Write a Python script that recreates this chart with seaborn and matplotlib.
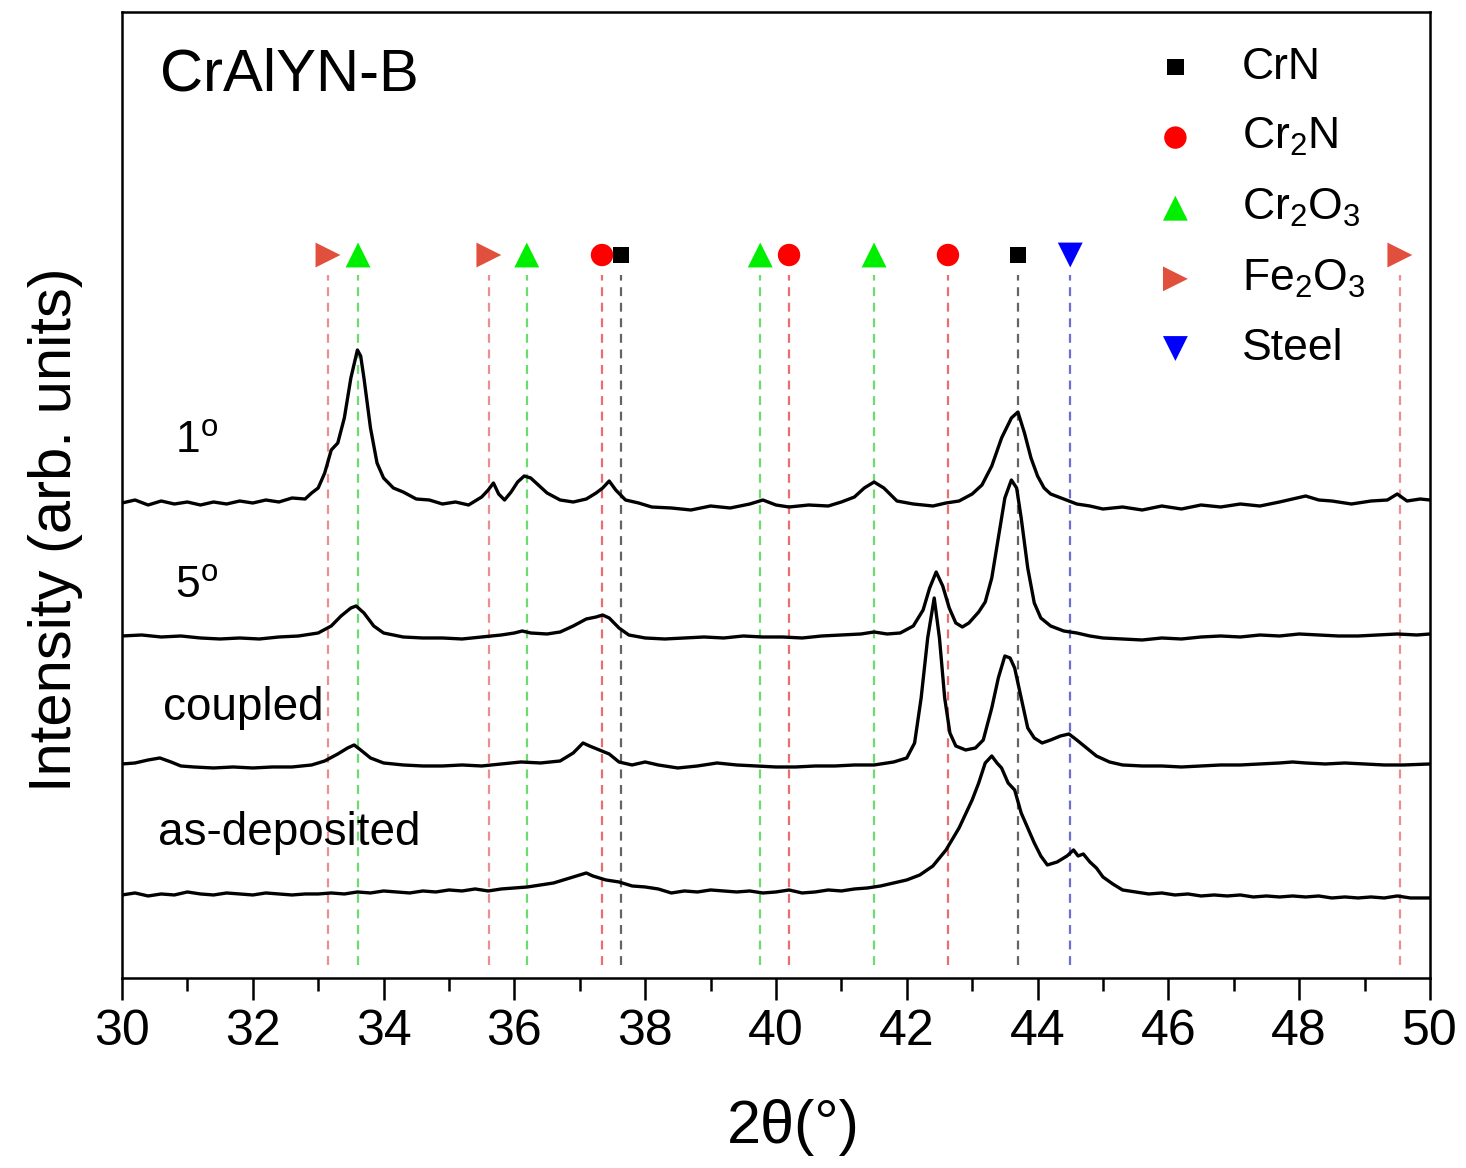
import numpy as np
import pandas as pd
import seaborn as sns
import matplotlib.pyplot as plt
from matplotlib.ticker import MultipleLocator

# --- XRD patterns (2theta in degrees, intensity in arb. units, already offset) ---
x_1deg = [30.0, 30.2, 30.4, 30.6, 30.8, 31.0, 31.2, 31.4, 31.6, 31.8, 32.0, 32.2, 32.4, 32.6, 32.8, 32.9,
          33.0, 33.1, 33.2, 33.3, 33.4, 33.5, 33.6, 33.65, 33.7, 33.8, 33.9, 34.0, 34.15, 34.3, 34.5, 34.7,
          34.9, 35.1, 35.3, 35.5, 35.6, 35.68, 35.76, 35.85, 35.95, 36.05, 36.15, 36.25, 36.35, 36.5, 36.7,
          36.9, 37.1, 37.25, 37.35, 37.45, 37.55, 37.7, 37.9, 38.1, 38.4, 38.7, 39.0, 39.3, 39.6, 39.8, 40.0,
          40.2, 40.5, 40.8, 41.0, 41.2, 41.35, 41.5, 41.65, 41.85, 42.1, 42.4, 42.6, 42.8, 43.0, 43.15, 43.3,
          43.45, 43.6, 43.7, 43.8, 43.9, 44.0, 44.1, 44.2, 44.4, 44.6, 44.8, 45.0, 45.3, 45.6, 45.9, 46.2,
          46.5, 46.8, 47.1, 47.4, 47.7, 47.9, 48.1, 48.3, 48.5, 48.8, 49.1, 49.35, 49.5, 49.65, 49.85, 50.0]
y_1deg = [475, 478, 473, 477, 474, 476, 473, 476, 474, 477, 475, 478, 476, 480, 479, 485,
          490, 505, 528, 535, 560, 600, 628, 622, 600, 550, 515, 500, 490, 486, 479, 478,
          474, 476, 473, 481, 488, 495, 484, 478, 486, 496, 502, 500, 494, 485, 478,
          476, 479, 485, 490, 497, 488, 478, 475, 471, 470, 468, 472, 470, 474, 478, 473,
          471, 473, 472, 476, 481, 490, 496, 490, 477, 474, 472, 475, 477, 484, 493, 512,
          540, 560, 566, 545, 520, 502, 490, 484, 479, 474, 472, 469, 471, 468, 472, 469,
          473, 471, 474, 472, 476, 479, 482, 478, 477, 474, 477, 478, 484, 477, 479, 478]

x_5deg = [30.0, 30.3, 30.6, 30.9, 31.2, 31.5, 31.8, 32.1, 32.4, 32.7, 33.0, 33.2, 33.35, 33.5, 33.58, 33.7,
          33.85, 34.0, 34.3, 34.6, 34.9, 35.2, 35.5, 35.8, 36.0, 36.12, 36.25, 36.5, 36.7, 36.9, 37.1, 37.25,
          37.35, 37.45, 37.6, 37.75, 38.0, 38.3, 38.6, 38.9, 39.2, 39.5, 39.8, 40.1, 40.4, 40.7, 41.0, 41.3,
          41.5, 41.7, 41.9, 42.1, 42.25, 42.35, 42.45, 42.55, 42.65, 42.75, 42.85, 42.95, 43.1, 43.2, 43.3,
          43.4, 43.5, 43.6, 43.68, 43.75, 43.85, 43.95, 44.05, 44.2, 44.4, 44.6, 44.8, 45.0, 45.3, 45.6, 45.9,
          46.2, 46.5, 46.8, 47.1, 47.4, 47.7, 48.0, 48.3, 48.6, 48.9, 49.2, 49.5, 49.8, 50.0]
y_5deg = [342, 343, 341, 342, 340, 339, 340, 339, 341, 342, 345, 352, 362, 370, 372, 365,
          352, 345, 341, 340, 340, 339, 341, 343, 345, 347, 345, 344, 346, 352, 359, 361,
          363, 360, 350, 343, 340, 339, 340, 341, 340, 342, 341, 341, 340, 342, 343, 344,
          346, 344, 345, 352, 368, 390, 406, 392, 370, 355, 351, 355, 366, 376, 400,
          440, 480, 498, 490, 460, 410, 375, 360, 352, 347, 345, 342, 340, 339, 338, 340,
          339, 341, 342, 341, 343, 342, 344, 343, 342, 342, 343, 344, 343, 344]

x_coupled = [30.0, 30.2, 30.4, 30.58, 30.75, 30.9, 31.1, 31.4, 31.7, 32.0, 32.3, 32.6, 32.9, 33.1, 33.3,
             33.45, 33.55, 33.65, 33.8, 34.0, 34.3, 34.6, 34.9, 35.2, 35.5, 35.8, 36.1, 36.4, 36.7, 36.9,
             37.05, 37.15, 37.3, 37.45, 37.6, 37.8, 38.0, 38.2, 38.5, 38.8, 39.1, 39.4, 39.7, 40.0, 40.3,
             40.6, 40.9, 41.2, 41.5, 41.8, 42.0, 42.12, 42.22, 42.32, 42.42, 42.5, 42.58, 42.66, 42.75, 42.9,
             43.05, 43.17, 43.3, 43.4, 43.5, 43.58, 43.65, 43.75, 43.85, 43.95, 44.07, 44.2, 44.35, 44.48,
             44.6, 44.75, 44.9, 45.1, 45.3, 45.6, 45.9, 46.2, 46.5, 46.8, 47.1, 47.4, 47.7, 47.9, 48.1, 48.4,
             48.7, 49.0, 49.3, 49.6, 50.0]
y_coupled = [214, 215, 218, 220, 216, 212, 211, 210, 211, 210, 211, 211, 213, 217, 224,
             230, 233, 228, 220, 215, 213, 212, 212, 213, 212, 214, 216, 215, 217, 225,
             235, 232, 228, 224, 216, 213, 216, 213, 210, 212, 215, 213, 212, 211, 211,
             212, 212, 213, 213, 216, 220, 235, 280, 340, 380, 340, 280, 245, 232, 228,
             230, 238, 270, 300, 322, 320, 310, 280, 250, 240, 235, 238, 242, 244,
             238, 230, 222, 216, 213, 212, 212, 211, 212, 213, 213, 214, 215, 216, 215, 214,
             215, 214, 213, 213, 214]

x_asdep = [30.0, 30.2, 30.4, 30.6, 30.8, 31.0, 31.2, 31.4, 31.6, 31.8, 32.0, 32.2, 32.4, 32.6, 32.8, 33.0,
           33.2, 33.4, 33.6, 33.8, 34.0, 34.2, 34.4, 34.6, 34.8, 35.0, 35.2, 35.4, 35.6, 35.8, 36.0, 36.2,
           36.4, 36.6, 36.8, 37.0, 37.1, 37.2, 37.4, 37.6, 37.8, 38.0, 38.2, 38.4, 38.6, 38.8, 39.0, 39.2,
           39.4, 39.6, 39.8, 40.0, 40.2, 40.4, 40.6, 40.8, 41.0, 41.2, 41.4, 41.6, 41.8, 42.0, 42.2, 42.4,
           42.6, 42.8, 43.0, 43.1, 43.2, 43.3, 43.38, 43.45, 43.55, 43.65, 43.75, 43.85, 43.95, 44.05, 44.15,
           44.3, 44.45, 44.55, 44.62, 44.7, 44.8, 44.9, 45.0, 45.15, 45.3, 45.5, 45.7, 45.9, 46.1, 46.3, 46.5,
           46.7, 46.9, 47.1, 47.3, 47.5, 47.7, 47.9, 48.1, 48.3, 48.5, 48.7, 48.9, 49.1, 49.3, 49.5, 49.7, 50.0]
y_asdep = [83, 85, 82, 84, 83, 86, 84, 83, 85, 84, 83, 85, 84, 83, 84, 84,
           85, 84, 86, 85, 87, 86, 85, 87, 86, 88, 87, 89, 87, 89, 90, 91,
           93, 95, 99, 103, 105, 102, 98, 96, 92, 91, 89, 85, 87, 86, 88, 87,
           86, 87, 85, 86, 88, 85, 86, 88, 87, 89, 90, 92, 95, 98, 103, 112,
           128, 150, 178, 195, 215, 222, 215, 210, 195, 188, 165, 150, 135, 122, 113,
           116, 122, 128, 122, 124, 116, 110, 101, 94, 88, 86, 84, 85, 83, 84, 82,
           83, 82, 83, 81, 82, 81, 82, 81, 82, 80, 81, 80, 81, 80, 82, 80, 80]

# --- reference peak positions ---
phases = ["CrN", "Cr$_2$N", "Cr$_2$O$_3$", "Fe$_2$O$_3$", "Steel"]
ref_CrN = [37.63, 43.70]
ref_Cr2N = [37.34, 40.20, 42.63]
ref_Cr2O3 = [33.61, 36.19, 39.76, 41.50]
ref_Fe2O3 = [33.15, 35.61, 49.54]
ref_Steel = [44.50]
ref_positions = [ref_CrN, ref_Cr2N, ref_Cr2O3, ref_Fe2O3, ref_Steel]
marker_level = 723

sns.set_style("ticks")
plt.rcParams['font.family'] = ['Liberation Sans', 'DejaVu Sans']
plt.rcParams['mathtext.fontset'] = 'custom'
plt.rcParams['mathtext.rm'] = 'Liberation Sans'
plt.rcParams['mathtext.it'] = 'Liberation Sans:italic'
plt.rcParams['text.color'] = 'black'
plt.rcParams['axes.labelcolor'] = 'black'
plt.rcParams['axes.edgecolor'] = 'black'
plt.rcParams['xtick.color'] = 'black'
plt.rcParams['ytick.color'] = 'black'

fig = plt.figure(figsize=(14.66, 11.68), dpi=100)
ax = fig.add_axes([0.0832, 0.1627, 0.8922, 0.827])

colors = ["black", "#ff0000", "#00ee00", "#e0503c", "#0000ff"]
line_colors = ["#222222", "#e03030", "#30cc30", "#e06060", "#3030c0"]
markers = ["s", "o", "^", ">", "v"]
sizes = [140, 260, 320, 320, 320]

# dashed reference lines
for pos, c in zip(ref_positions, line_colors):
    ax.vlines(pos, 13, 703, colors=c, linestyles=(0, (4, 3)), lw=1.6, alpha=0.7)

# patterns
for xs, ys in [(x_1deg, y_1deg), (x_5deg, y_5deg), (x_coupled, y_coupled), (x_asdep, y_asdep)]:
    sns.lineplot(x=xs, y=ys, color="black", lw=2.4, ax=ax)

# phase markers
for name, pos, c, m, s in zip(phases, ref_positions, colors, markers, sizes):
    sns.scatterplot(x=pos, y=[marker_level] * len(pos), marker=m, color=c, s=s,
                    edgecolor="none", label=name, ax=ax, zorder=5)

ax.legend(loc="upper left", bbox_to_anchor=(0.785, 0.964), frameon=False, fontsize=32,
          handletextpad=0.9, labelspacing=0.64, borderpad=0, borderaxespad=0, handlelength=1.2)

# text annotations
ax.text(30.58, 888, "CrAlYN-B", fontsize=43, va="baseline")
ax.text(30.81, 525, "1$^{\\rm o}$", fontsize=32, va="baseline")
ax.text(30.81, 380, "5$^{\\rm o}$", fontsize=32, va="baseline")
ax.text(30.63, 258, "coupled", fontsize=33, va="baseline")
ax.text(30.55, 133, "as-deposited", fontsize=33, va="baseline")

ax.set_xlim(30, 50)
ax.set_ylim(0, 966)
ax.set_yticks([])
ax.xaxis.set_major_locator(MultipleLocator(2))
ax.xaxis.set_minor_locator(MultipleLocator(1))
ax.tick_params(axis="x", which="major", length=16, width=1.8, direction="out", labelsize=36, pad=6)
ax.tick_params(axis="x", which="minor", length=9, width=1.8, direction="out")
for sp in ax.spines.values():
    sp.set_linewidth(1.8)
    sp.set_visible(True)

ax.set_xlabel("2\u03b8(\u00b0)", fontsize=44)
ax.xaxis.set_label_coords(0.513, -0.125)
ax.set_ylabel("Intensity (arb. units)", fontsize=43)
ax.yaxis.set_label_coords(-0.03, 0.464)

fig.savefig("out.png", dpi=100)
